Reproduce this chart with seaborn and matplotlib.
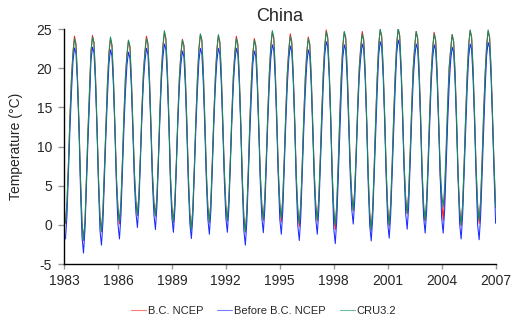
import numpy as np
import pandas as pd
import matplotlib
matplotlib.use("Agg")
import matplotlib.pyplot as plt
import seaborn as sns
from matplotlib.lines import Line2D

years = list(range(1983, 2007))
series_names = ["B.C. NCEP", "Before B.C. NCEP", "CRU3.2"]
colors = ["#ff2020", "#1a2cff", "#10905e"]
xtick_years = list(range(1983, 2008, 3))
yticks = [-5, 0, 5, 10, 15, 20, 25]

# monthly values (Jan..Dec) per year
bc_ncep = [
    [0.2, 2.8, 8.0, 13.9, 18.9, 22.1, 24.1, 23.1, 18.8, 12.9, 5.9, 0.3],
    [-2.0, 0.3, 6.1, 12.0, 17.1, 22.2, 24.2, 23.3, 19.1, 12.9, 6.0, 1.0],
    [-0.9, 1.8, 7.3, 13.1, 18.1, 21.9, 23.8, 22.9, 18.6, 12.5, 5.9, 2.0],
    [0.1, 2.8, 8.1, 14.0, 18.9, 21.7, 23.5, 22.7, 18.5, 12.6, 6.5, 2.9],
    [1.2, 3.8, 8.9, 14.8, 19.5, 22.2, 24.1, 23.2, 18.9, 13.0, 6.6, 2.8],
    [1.1, 3.5, 8.6, 14.5, 19.5, 22.7, 24.6, 23.7, 19.5, 13.4, 6.4, 2.2],
    [0.3, 2.9, 8.1, 14.0, 18.9, 21.9, 23.7, 22.9, 18.8, 12.9, 6.1, 1.3],
    [-0.6, 2.1, 7.5, 13.5, 18.6, 22.4, 24.3, 23.5, 19.3, 13.2, 6.6, 2.2],
    [0.3, 2.9, 8.2, 14.0, 18.9, 22.3, 24.1, 23.3, 19.1, 13.1, 6.7, 2.4],
    [0.5, 3.1, 8.3, 14.1, 19.1, 22.1, 24.1, 23.1, 18.9, 12.8, 5.8, 1.0],
    [-0.9, 1.7, 7.1, 13.1, 18.2, 21.9, 23.8, 22.9, 18.6, 12.6, 6.3, 2.4],
    [0.6, 3.3, 8.5, 14.3, 19.3, 22.8, 24.6, 23.8, 19.5, 13.5, 6.9, 2.6],
    [0.4, 3.2, 8.5, 14.4, 19.4, 22.5, 24.4, 23.4, 19.1, 13.1, 6.1, 1.8],
    [-0.2, 2.5, 7.8, 13.8, 18.8, 22.1, 24.0, 23.1, 18.9, 12.9, 6.5, 2.4],
    [0.5, 3.2, 8.4, 14.3, 19.4, 23.0, 24.9, 23.9, 19.6, 13.6, 6.4, 1.6],
    [-0.6, 2.2, 7.6, 13.6, 18.9, 22.7, 24.6, 23.8, 19.6, 13.7, 7.5, 3.7],
    [1.8, 4.4, 9.5, 15.3, 20.1, 22.8, 24.7, 23.7, 19.5, 13.4, 6.3, 1.4],
    [-0.7, 2.0, 7.5, 13.6, 18.9, 23.0, 24.9, 24.0, 19.8, 13.8, 6.8, 2.0],
    [-0.1, 2.6, 7.9, 13.9, 19.1, 23.1, 25.0, 24.1, 19.9, 13.9, 7.4, 3.3],
    [1.4, 4.0, 9.2, 15.0, 20.0, 22.8, 24.7, 23.8, 19.6, 13.6, 6.5, 1.4],
    [0.5, 3.1, 8.3, 14.2, 19.3, 22.7, 24.6, 23.6, 19.4, 13.4, 6.4, 3.2],
    [0.6, 3.6, 9.2, 15.2, 20.0, 22.4, 24.3, 23.4, 19.2, 13.2, 6.1, 1.9],
    [-0.1, 2.5, 7.8, 13.8, 19.0, 22.9, 24.8, 23.9, 19.7, 13.7, 7.0, 2.4],
    [0.2, 2.9, 8.2, 14.2, 19.2, 22.8, 24.7, 23.9, 19.7, 13.7, 7.3, 2.2],
]

before_bc_ncep = [
    [-1.8, 1.2, 6.7, 12.4, 17.0, 20.9, 22.6, 21.9, 18.0, 12.2, 4.6, -1.5],
    [-3.6, -0.6, 5.0, 10.8, 15.6, 21.0, 22.7, 22.0, 18.1, 12.3, 5.2, -0.7],
    [-2.6, 0.4, 5.9, 11.6, 16.4, 20.6, 22.35, 21.6, 17.7, 11.9, 5.0, 0.1],
    [-1.8, 1.2, 6.7, 12.4, 17.0, 20.4, 22.05, 21.3, 17.4, 11.6, 5.3, 1.5],
    [-0.35, 2.6, 8.1, 13.8, 18.3, 20.9, 22.55, 21.8, 17.9, 12.1, 5.5, 1.3],
    [-0.6, 2.4, 7.9, 13.6, 18.4, 21.4, 23.1, 22.4, 18.5, 12.7, 5.4, 0.9],
    [-0.95, 2.0, 7.5, 13.2, 17.8, 20.5, 22.2, 21.5, 17.6, 11.8, 5.0, 0.1],
    [-1.75, 1.2, 6.7, 12.4, 17.1, 20.9, 22.55, 21.8, 17.9, 12.1, 5.6, 0.7],
    [-1.2, 1.8, 7.3, 13.0, 17.7, 20.9, 22.55, 21.8, 17.9, 12.1, 5.6, 0.9],
    [-0.95, 2.0, 7.5, 13.2, 17.8, 20.9, 22.55, 21.8, 17.9, 12.1, 4.9, -0.7],
    [-2.6, 0.4, 5.9, 11.6, 16.4, 20.5, 22.2, 21.5, 17.6, 11.8, 5.3, 0.9],
    [-1.0, 2.0, 7.5, 13.2, 17.9, 21.3, 23.0, 22.3, 18.4, 12.6, 6.0, 0.7],
    [-1.2, 1.8, 7.3, 13.0, 17.8, 21.2, 22.85, 22.1, 18.2, 12.4, 5.1, -0.1],
    [-2.0, 1.0, 6.5, 12.2, 16.9, 20.6, 22.35, 21.6, 17.7, 11.9, 5.5, 0.7],
    [-1.2, 1.8, 7.3, 13.0, 17.9, 21.7, 23.4, 22.7, 18.8, 13.0, 5.5, -0.5],
    [-2.4, 0.6, 6.1, 11.8, 16.8, 21.3, 23.0, 22.3, 18.4, 12.6, 6.3, 2.0],
    [0.1, 3.1, 8.6, 14.3, 18.9, 21.4, 23.1, 22.4, 18.5, 12.7, 5.2, -0.1],
    [-2.05, 0.9, 6.4, 12.2, 17.2, 21.7, 23.4, 22.7, 18.8, 13.0, 6.0, 0.2],
    [-1.7, 1.3, 6.8, 12.5, 17.4, 21.9, 23.6, 22.9, 19.0, 13.2, 6.5, 1.4],
    [-0.55, 2.4, 7.9, 13.6, 18.4, 21.4, 23.1, 22.4, 18.5, 12.7, 5.7, 0.9],
    [-1.05, 1.9, 7.4, 13.2, 18.0, 21.3, 23.0, 22.3, 18.4, 12.6, 6.2, 0.9],
    [-1.05, 1.9, 7.4, 13.1, 17.8, 21.0, 22.7, 22.0, 18.1, 12.3, 5.7, 0.1],
    [-1.8, 1.2, 6.7, 12.4, 17.3, 21.4, 23.1, 22.4, 18.5, 12.7, 6.0, 0.0],
    [-1.9, 1.1, 6.6, 12.4, 17.3, 21.6, 23.3, 22.6, 18.7, 12.9, 6.2, 0.2],
]

cru32 = [
    [0.3, 2.9, 8.1, 13.9, 18.8, 21.9, 23.8, 22.9, 18.7, 12.9, 5.9, 0.4],
    [-1.9, 0.4, 6.2, 12.0, 17.0, 22.1, 24.0, 23.2, 19.0, 12.8, 6.1, 1.1],
    [-0.8, 1.9, 7.4, 13.2, 18.2, 22.0, 24.0, 23.0, 18.7, 12.5, 6.0, 2.2],
    [0.4, 3.0, 8.3, 14.1, 19.0, 21.8, 23.6, 22.8, 18.5, 12.6, 6.6, 3.0],
    [1.3, 3.9, 9.0, 14.8, 19.4, 22.0, 23.8, 23.1, 18.9, 13.0, 6.7, 2.9],
    [1.2, 3.6, 8.7, 14.6, 19.6, 22.9, 24.8, 23.8, 19.6, 13.5, 6.5, 2.3],
    [0.4, 3.0, 8.2, 14.0, 18.9, 21.8, 23.6, 22.9, 18.8, 12.9, 6.2, 1.4],
    [-0.6, 2.2, 7.6, 13.6, 18.6, 22.5, 24.4, 23.6, 19.4, 13.3, 6.7, 2.3],
    [0.4, 3.0, 8.3, 14.1, 19.0, 22.4, 24.3, 23.4, 19.2, 13.2, 6.8, 2.5],
    [0.6, 3.2, 8.4, 14.2, 19.0, 21.9, 23.8, 23.0, 18.8, 12.8, 5.9, 1.1],
    [-0.9, 1.8, 7.2, 13.2, 18.2, 21.8, 23.6, 22.8, 18.6, 12.6, 6.4, 2.6],
    [0.7, 3.4, 8.6, 14.4, 19.4, 22.9, 24.8, 23.9, 19.6, 13.6, 7.0, 2.8],
    [0.9, 3.5, 8.7, 14.5, 19.3, 22.2, 24.1, 23.2, 19.0, 13.0, 6.2, 2.1],
    [0.2, 2.8, 8.0, 13.9, 18.8, 21.9, 23.8, 23.0, 18.8, 12.9, 6.6, 2.5],
    [0.6, 3.3, 8.5, 14.3, 19.3, 22.8, 24.7, 23.8, 19.6, 13.6, 6.5, 2.0],
    [0.0, 2.7, 8.0, 13.9, 19.0, 22.8, 24.7, 23.9, 19.7, 13.8, 7.6, 3.8],
    [1.9, 4.5, 9.6, 15.3, 20.0, 22.5, 24.4, 23.5, 19.4, 13.3, 6.4, 1.5],
    [-0.6, 2.1, 7.6, 13.7, 18.9, 23.1, 25.0, 24.1, 19.9, 13.9, 6.9, 2.1],
    [0.0, 2.7, 8.0, 14.0, 19.2, 23.2, 25.1, 24.2, 20.0, 14.0, 7.5, 3.4],
    [1.5, 4.1, 9.3, 15.1, 20.0, 22.8, 24.7, 23.8, 19.6, 13.6, 6.8, 2.6],
    [0.6, 3.2, 8.4, 14.2, 19.2, 22.5, 24.4, 23.5, 19.3, 13.3, 7.5, 4.0],
    [2.3, 4.9, 10.0, 15.7, 20.2, 22.4, 24.3, 23.4, 19.2, 13.2, 6.2, 2.0],
    [0.0, 2.6, 7.9, 13.9, 19.1, 23.0, 24.9, 24.0, 19.8, 13.8, 7.1, 2.6],
    [0.6, 3.2, 8.4, 14.3, 19.3, 23.0, 24.9, 24.0, 19.8, 13.8, 7.4, 2.3],
]

rows = []
for name, table in zip(series_names, [bc_ncep, before_bc_ncep, cru32]):
    for yi, yr in enumerate(years):
        for m, v in enumerate(table[yi]):
            rows.append({"t": yr + (m + 1) / 12.0, "temp": v, "series": name})
df = pd.DataFrame(rows)

sns.set_style("ticks")
plt.rcParams["font.family"] = ["Liberation Sans", "DejaVu Sans"]

fig = plt.figure(figsize=(5.12, 3.2), dpi=100)
ax = fig.add_axes([0.125, 0.175, 0.843, 0.734])

sns.lineplot(data=df, x="t", y="temp", hue="series", hue_order=series_names,
             palette=dict(zip(series_names, colors)), linewidth=0.75, ax=ax,
             legend=False, estimator=None, sort=False)

ax.set_xlim(1983, 2007)
ax.set_ylim(-5, 25)
ax.set_xticks(xtick_years)
ax.set_xticklabels([str(y) for y in xtick_years])
ax.set_yticks(yticks)
ax.set_yticklabels([str(y) for y in yticks])
ax.set_xlabel("")
ax.set_ylabel("Temperature (\u00b0C)", fontsize=10, labelpad=10)
ax.set_title("China", fontsize=13, pad=6)

for s in ["top", "right"]:
    ax.spines[s].set_visible(False)
for s in ["left", "bottom"]:
    ax.spines[s].set_color("black")
    ax.spines[s].set_linewidth(1.0)
ax.tick_params(axis="y", length=4.5, width=1, color="#999999", labelsize=10, pad=4)
ax.tick_params(axis="x", length=3.5, width=1, color="#999999", labelsize=10, pad=4)

handles = [Line2D([0], [0], color=c, lw=0.8, alpha=0.6) for c in colors]
fig.legend(handles, series_names, loc="center", bbox_to_anchor=(0.515, 0.027),
           ncol=3, frameon=False, fontsize=8, handlelength=1.35,
           handletextpad=0.15, columnspacing=1.3)

fig.savefig("out.png", dpi=100)
